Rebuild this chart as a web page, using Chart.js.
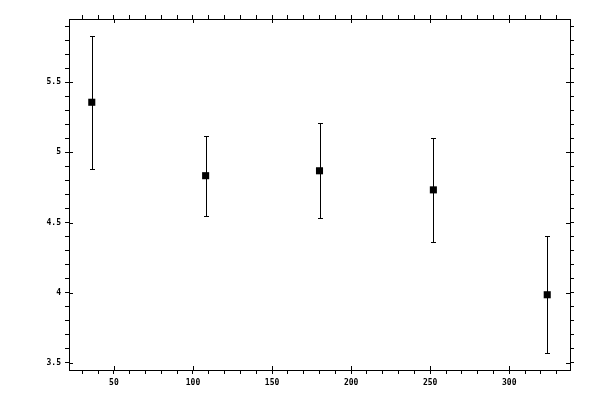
<!DOCTYPE html>
<html>
<head>
<meta charset="utf-8">
<script src="https://cdn.jsdelivr.net/npm/chart.js@4/dist/chart.umd.min.js"></script>
<style>
    html, body { margin: 0; padding: 0; background: #fff; }
    canvas { display: block; }
</style>
</head>
<body>
<canvas id="chart" width="600" height="400"></canvas>
<script>
// --- Data ---
const xValues = [36, 108, 180, 252, 324];
const yValues = [5.357, 4.834, 4.869, 4.733, 3.986];
const yErrors = [0.475, 0.285, 0.338, 0.370, 0.418];

const xTickLabels = [50, 100, 150, 200, 250, 300];
const yTickLabels = [3.5, 4, 4.5, 5, 5.5];

const xRange = [21.6, 338.4];
const yRange = [3.45, 5.95];

const FONT = { family: '"DejaVu Sans Mono", monospace', size: 8, weight: 'bold' };

function isLabelled(value, list) {
    return list.some(v => Math.abs(v - value) < 1e-6);
}

// minor tick positions every `step` inside [min, max]
function minorTicks(min, max, step) {
    const out = [];
    for (let k = Math.ceil(min / step - 1e-9); k * step <= max + 1e-9; k++) {
        out.push({ value: Math.round(k * step * 1000) / 1000 });
    }
    return out;
}

function axis(position, min, max, step, labels, showLabels, size) {
    return {
        type: 'linear',
        position: position,
        min: min,
        max: max,
        grid: { drawOnChartArea: false, drawTicks: true, tickLength: 4, color: '#000', lineWidth: 1 },
        border: { display: true, color: '#000', width: 1 },
        afterBuildTicks: (scale) => { scale.ticks = minorTicks(min, max, step); },
        ticks: {
            autoSkip: false,
            maxRotation: 0,
            padding: 4,
            color: '#000',
            font: FONT,
            callback: (value) => (showLabels && isLabelled(value, labels)) ? String(Math.round(value * 10) / 10) : ''
        },
        afterFit: (scale) => {
            if (scale.isHorizontal()) scale.height = size; else scale.width = size;
        }
    };
}

// error bars drawn through the chart's scales
const errorBars = {
    id: 'errorBars',
    beforeDatasetsDraw(chart) {
        const { ctx, scales: { x, y } } = chart;
        ctx.save();
        ctx.strokeStyle = '#000';
        ctx.lineWidth = 1;
        xValues.forEach((xv, i) => {
            const px = Math.round(x.getPixelForValue(xv)) + 0.5;
            const top = Math.round(y.getPixelForValue(yValues[i] + yErrors[i])) + 0.5;
            const bot = Math.round(y.getPixelForValue(yValues[i] - yErrors[i])) + 0.5;
            ctx.beginPath();
            ctx.moveTo(px, top); ctx.lineTo(px, bot);
            ctx.moveTo(px - 2.5, top); ctx.lineTo(px + 2.5, top);
            ctx.moveTo(px - 2.5, bot); ctx.lineTo(px + 2.5, bot);
            ctx.stroke();
        });
        ctx.restore();
    }
};

// inner half of the major ticks, so they cross the frame
const majorTicks = {
    id: 'majorTicks',
    afterDraw(chart) {
        const { ctx, chartArea: a, scales } = chart;
        ctx.save();
        ctx.strokeStyle = '#000';
        ctx.lineWidth = 1;
        ctx.beginPath();
        xTickLabels.forEach(v => {
            const px = Math.round(scales.x.getPixelForValue(v)) + 0.5;
            ctx.moveTo(px, a.bottom); ctx.lineTo(px, a.bottom - 4);
            ctx.moveTo(px, a.top); ctx.lineTo(px, a.top + 4);
        });
        yTickLabels.forEach(v => {
            const py = Math.round(scales.y.getPixelForValue(v)) + 0.5;
            ctx.moveTo(a.left, py); ctx.lineTo(a.left + 4, py);
            ctx.moveTo(a.right, py); ctx.lineTo(a.right - 4, py);
        });
        ctx.stroke();
        ctx.restore();
    }
};

new Chart(document.getElementById('chart'), {
    type: 'scatter',
    data: {
        datasets: [{
            data: xValues.map((xv, i) => ({ x: xv, y: yValues[i] })),
            pointStyle: 'rect',
            pointRadius: 5,
            pointHoverRadius: 5,
            backgroundColor: '#000',
            borderColor: '#000',
            borderWidth: 0,
            xAxisID: 'x',
            yAxisID: 'y'
        }]
    },
    options: {
        responsive: false,
        animation: false,
        devicePixelRatio: 1,
        layout: { padding: 0 },
        plugins: { legend: { display: false }, tooltip: { enabled: false } },
        scales: {
            x: axis('bottom', xRange[0], xRange[1], 10, xTickLabels, true, 30),
            x2: axis('top', xRange[0], xRange[1], 10, xTickLabels, false, 19),
            y: axis('left', yRange[0], yRange[1], 0.1, yTickLabels, true, 69),
            y2: axis('right', yRange[0], yRange[1], 0.1, yTickLabels, false, 30)
        }
    },
    plugins: [errorBars, majorTicks]
});
</script>
</body>
</html>
